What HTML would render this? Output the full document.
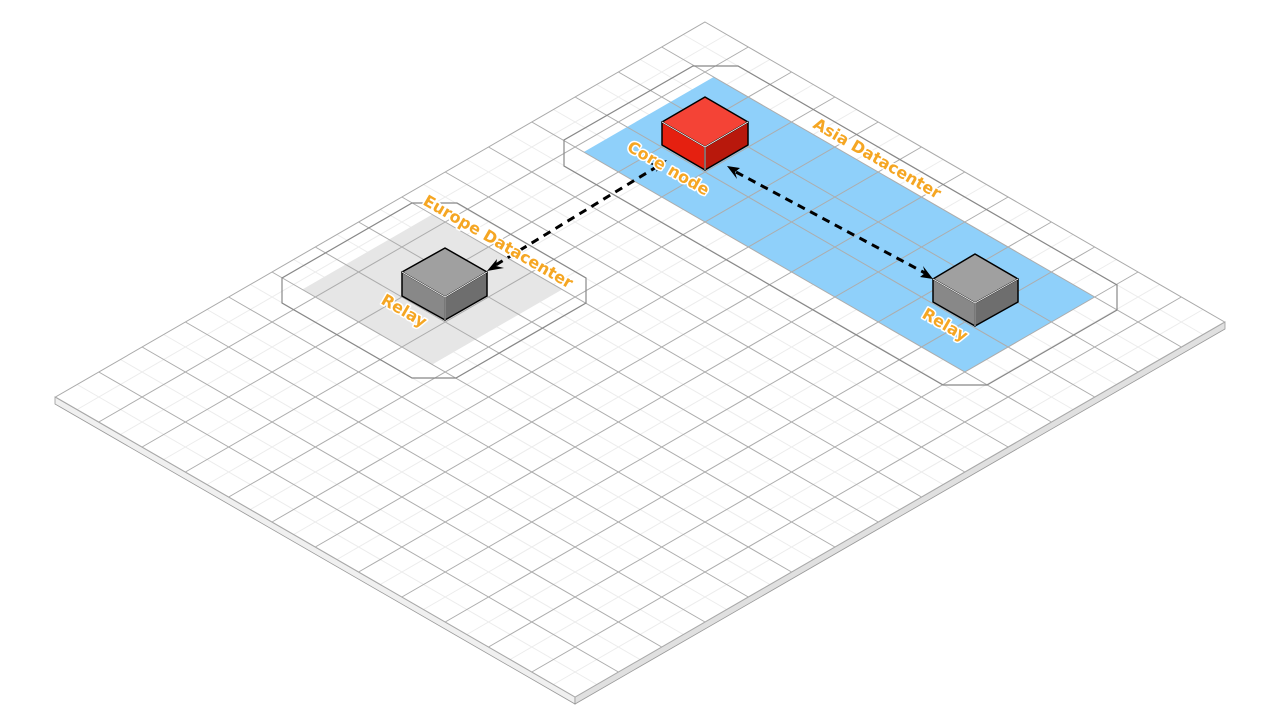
<!DOCTYPE html>
<html><head><meta charset="utf-8"><style>
html,body{margin:0;padding:0;background:#fff;width:1280px;height:720px;overflow:hidden}
text{font-family:"DejaVu Sans","Liberation Sans",sans-serif;font-weight:bold;font-size:16px;fill:#f5a623;stroke:#fff;stroke-width:3px;paint-order:stroke;stroke-linejoin:round}
</style></head><body>
<svg width="1280" height="720" viewBox="0 0 1280 720" xmlns="http://www.w3.org/2000/svg">
<polygon points="55,397 575,697 575,704 55,404" fill="#f0f0f0" stroke="#999" stroke-width="0.8"/>
<polygon points="575,697 1225,322 1225,329 575,704" fill="#e0e0e0" stroke="#999" stroke-width="0.8"/>
<g transform="matrix(0.866,0.5,-0.866,0.5,705,22)">
<rect x="0" y="0" width="600" height="750" fill="#fff"/>
<path fill="none" stroke="#ececec" stroke-width="1" vector-effect="non-scaling-stroke" d="M25 0V750M75 0V750M125 0V750M175 0V750M225 0V750M275 0V750M325 0V750M375 0V750M425 0V750M475 0V750M525 0V750M575 0V750M0 25H600M0 75H600M0 125H600M0 175H600M0 225H600M0 275H600M0 325H600M0 375H600M0 425H600M0 475H600M0 525H600M0 575H600M0 625H600M0 675H600M0 725H600"/>
<rect x="60" y="50" width="440" height="150" fill="#8fd0fa"/>
<rect x="35" y="350" width="150" height="150" fill="#e6e6e6"/>
<path fill="none" stroke="#adadad" stroke-width="1" vector-effect="non-scaling-stroke" d="M50 0V750M100 0V750M150 0V750M200 0V750M250 0V750M300 0V750M350 0V750M400 0V750M450 0V750M500 0V750M550 0V750M0 50H600M0 100H600M0 150H600M0 200H600M0 250H600M0 300H600M0 350H600M0 400H600M0 450H600M0 500H600M0 550H600M0 600H600M0 650H600M0 700H600"/>
<rect x="0" y="0" width="600" height="750" fill="none" stroke="#aaa" stroke-width="1" vector-effect="non-scaling-stroke"/>
</g>
<polygon points="693,66 738,66 1117,285 1117,310 987,385 943,385 564,166 564,140" fill="none" stroke="#888" stroke-width="1.2"/>
<polygon points="412,203 457,203 586,278 586,303 456,378 412,378 282,303 282,278" fill="none" stroke="#888" stroke-width="1.2"/>
<g stroke="#000" stroke-width="1.5" stroke-linejoin="round">
<polygon points="705,97 748,122 705,147 662,122" fill="#f44336"/>
<polygon points="662,122 705,147 705,170 662,145" fill="#e52010"/>
<polygon points="705,147 748,122 748,145 705,170" fill="#b8180c"/>
<polygon points="445,248 487,272 445,297 402,272" fill="#a0a0a0"/>
<polygon points="402,272 445,297 445,320 402,296" fill="#888"/>
<polygon points="445,297 487,272 487,296 445,320" fill="#6e6e6e"/>
<polygon points="975,254 1018,279 975,303 933,279" fill="#a0a0a0"/>
<polygon points="933,279 975,303 975,326 933,302" fill="#888"/>
<polygon points="975,303 1018,279 1018,302 975,326" fill="#6e6e6e"/>
</g>
<g stroke="#fff" stroke-width="0.8" fill="none">
<path d="M662,122 L705,147 L748,122 M705,147 V170"/>
<path d="M402,272 L445,297 L487,272 M445,297 V320"/>
<path d="M933,279 L975,303 L1018,279 M975,303 V326"/>
</g>
<g stroke="#000" stroke-width="3" stroke-dasharray="8,6" fill="none">
<path d="M658,166 L494,266"/>
<path d="M736,172 L925,273"/>
</g>
<g fill="#000">
<polygon points="487,271 497,259 496,266 504,268"/>
<polygon points="667,160 656,172 658,166 649,164"/>
<polygon points="727,166 740,168 735,172 737,179"/>
<polygon points="933,279 920,277 925,273 923,266"/>
</g>
<text transform="translate(626,150) rotate(30)">Core node</text>
<text transform="translate(812,127) rotate(30)">Asia Datacenter</text>
<text transform="translate(422,204) rotate(30)">Europe Datacenter</text>
<text transform="translate(380,303) rotate(30)">Relay</text>
<text transform="translate(921,317) rotate(30)">Relay</text>
</svg>
</body></html>
